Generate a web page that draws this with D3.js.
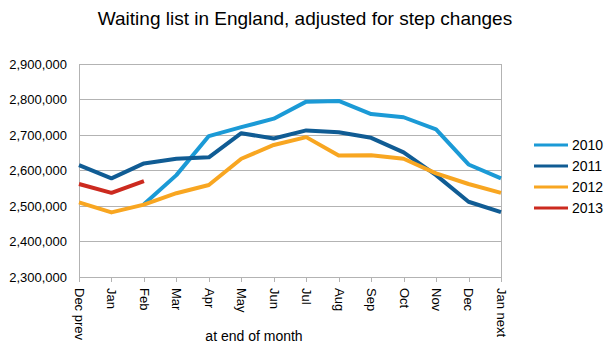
<!DOCTYPE html>
<html><head><meta charset="utf-8">
<script src="https://cdn.jsdelivr.net/npm/d3@7"></script>
<style>body{margin:0;background:#fff}svg{display:block}text{font-family:"Liberation Sans",Arial,sans-serif;fill:#000}</style>
</head><body><div id="c"></div>
<script>
const months = ["Dec prev","Jan","Feb","Mar","Apr","May","Jun","Jul","Aug","Sep","Oct","Nov","Dec","Jan next"];
const s2010 = [null,null,2505000,2587000,2697000,2722000,2746000,2794000,2796000,2759000,2750000,2716000,2617000,2578000];
const s2011 = [2615000,2578000,2620000,2633000,2637000,2705000,2690000,2713000,2708000,2692000,2651000,2587000,2512000,2483000];
const s2012 = [2510000,2482000,2504000,2536000,2559000,2633000,2672000,2694000,2642000,2643000,2633000,2592000,2562000,2537000];
const s2013 = [2562000,2537000,2570000,null,null,null,null,null,null,null,null,null,null,null];
const seriesNames = ["2010","2011","2012","2013"];
const yTicks = [2300000,2400000,2500000,2600000,2700000,2800000,2900000];
const colors = ["#1b9ad6","#105c94","#f8a621","#cc2a1f"];
const allSeries = [s2010,s2011,s2012,s2013];

const W=611,H=355;
const svg=d3.select("#c").append("svg").attr("width",W).attr("height",H);
const x=d3.scalePoint().domain(months).range([79,501]);
const y=d3.scaleLinear().domain([2300000,2900000]).range([277,64]);
const fmt=d3.format(",");

svg.append("text").attr("x",305).attr("y",25).attr("text-anchor","middle").style("font-size","19px").text("Waiting list in England, adjusted for step changes");

svg.append("g").selectAll("line").data(yTicks).join("line")
 .attr("x1",79).attr("x2",501).attr("y1",d=>y(d)).attr("y2",d=>y(d))
 .attr("stroke","#b3b3b3").attr("stroke-width",1).attr("shape-rendering","crispEdges");
svg.append("line").attr("x1",501).attr("x2",501).attr("y1",y(2900000)).attr("y2",y(2300000)).attr("stroke","#b3b3b3").attr("shape-rendering","crispEdges");

const ya=svg.append("g").attr("transform","translate(79,0)").call(d3.axisLeft(y).tickValues(yTicks).tickFormat(fmt).tickSize(0).tickPadding(12));
ya.select(".domain").attr("stroke","#b3b3b3").attr("shape-rendering","crispEdges");
ya.selectAll("text").style("font-size","13px").style("font-family","'Liberation Sans',Arial,sans-serif");

const xa=svg.append("g").attr("transform","translate(0,277)").call(d3.axisBottom(x).tickSize(5).tickPadding(0));
xa.select(".domain").attr("stroke","#b3b3b3").attr("shape-rendering","crispEdges");
xa.selectAll(".tick line").attr("stroke","#b3b3b3").attr("shape-rendering","crispEdges");
xa.selectAll("text").attr("transform","translate(0,11) rotate(90)").attr("text-anchor","start").attr("dy","0.35em").attr("y",0).attr("x",0)
 .style("font-size","13px").style("font-family","'Liberation Sans',Arial,sans-serif");

svg.append("text").attr("x",254).attr("y",341).attr("text-anchor","middle").style("font-size","14px").text("at end of month");

const line=d3.line().defined(d=>d.v!=null).x(d=>x(d.m)).y(d=>y(d.v));
allSeries.forEach((s,i)=>{
 svg.append("path").datum(s.map((v,j)=>({m:months[j],v})))
  .attr("d",line).attr("fill","none").attr("stroke",colors[i]).attr("stroke-width",4).attr("stroke-linejoin","round");
});

const lg=svg.append("g");
seriesNames.forEach((n,i)=>{
 const yy=145+i*21;
 lg.append("line").attr("x1",534).attr("x2",568).attr("y1",yy).attr("y2",yy).attr("stroke",colors[i]).attr("stroke-width",3);
 lg.append("text").attr("x",572).attr("y",yy).attr("dy","0.35em").style("font-size","14px").text(n);
});
</script></body></html>
